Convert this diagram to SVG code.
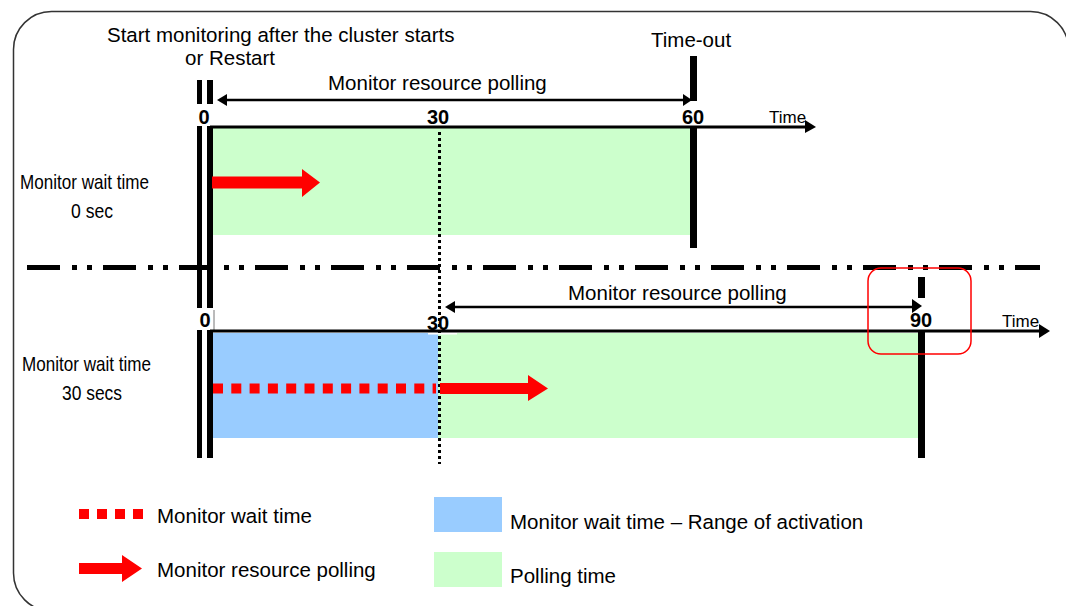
<svg xmlns="http://www.w3.org/2000/svg" width="1066" height="606" viewBox="0 0 1066 606">
<style>
text{font-family:"Liberation Sans",Arial,sans-serif;fill:#000}
.t{font-size:20.5px}
.n{font-size:21px}
.b{font-size:20px;font-weight:bold}
.s{font-size:17px}
.bar{fill:#000}
.ax{stroke:#000;stroke-width:3;fill:none}
.pl{stroke:#000;stroke-width:2.5;fill:none}
.dot{stroke:#000;stroke-width:3;stroke-dasharray:3 3;fill:none}
.dd{stroke:#000;stroke-width:5;stroke-dasharray:33 12 5 10 5 11;fill:none}
.rd{stroke:#f00;stroke-width:10;stroke-dasharray:10 8.3;fill:none}
.red{fill:#f00}
.g{fill:#ccffcc}
.bl{fill:#99ccff}
</style>
<path d="M1068.5,640 L1068.5,49.5 A38,38 0 0 0 1030.5,11.5 L51.5,11.5 A38,38 0 0 0 13.5,49.5 L13.5,573 A38,38 0 0 0 51.5,611 L1100,611" fill="#fff" stroke="#333" stroke-width="1.5"/>

<g id="fills">
<rect class="g" x="213" y="128" width="477" height="107"/>
<rect class="bl" x="213" y="333" width="225" height="105"/>
<rect class="g" x="438" y="333" width="480" height="105"/>
<rect x="428" y="332.5" width="29" height="2" fill="#fff"/>
</g>

<g id="labels-left">
<text class="n" x="20" y="189" textLength="129" lengthAdjust="spacingAndGlyphs">Monitor wait time</text>
<text class="n" x="71" y="218" textLength="42" lengthAdjust="spacingAndGlyphs">0 sec</text>
<text class="n" x="22" y="371" textLength="129" lengthAdjust="spacingAndGlyphs">Monitor wait time</text>
<text class="n" x="62" y="400" textLength="60" lengthAdjust="spacingAndGlyphs">30 secs</text>
</g>

<g id="title">
<text class="t" x="107" y="42">Start monitoring after the cluster starts</text>
<text class="t" x="185" y="65">or Restart</text>
<text class="t" x="651" y="47">Time-out</text>
</g>

<g id="start-bars">
<rect class="bar" x="197" y="80" width="5" height="24"/>
<rect class="bar" x="207" y="80" width="6" height="24"/>
<rect class="bar" x="197" y="126" width="5" height="182"/>
<rect class="bar" x="207" y="126" width="6" height="182"/>
<rect class="bar" x="197" y="330" width="5" height="128"/>
<rect class="bar" x="207" y="330" width="6" height="128"/>
<line x1="214" y1="310" x2="214" y2="331" stroke="#777" stroke-width="1"/>
</g>

<g id="timeout-bars">
<rect class="bar" x="690" y="56" width="7" height="45"/>
<rect class="bar" x="690" y="128" width="7" height="120"/>
<rect class="bar" x="918" y="277" width="7" height="21"/>
<rect class="bar" x="918" y="331" width="7" height="127"/>
</g>

<g id="ticks">
<text class="b" x="204" y="124" text-anchor="middle">0</text>
<text class="b" x="438" y="124" text-anchor="middle">30</text>
<text class="b" x="693" y="124" text-anchor="middle">60</text>
<text class="b" x="205" y="327" text-anchor="middle">0</text>
<text class="b" x="438" y="330" text-anchor="middle">30</text>
<text class="b" x="921" y="327" text-anchor="middle">90</text>
<text class="s" x="769" y="123">Time</text>
<text class="s" x="1002" y="327">Time</text>
</g>

<g id="connectors">
<line class="ax" x1="210" y1="127" x2="806" y2="127"/>
<polygon points="805,120 816,127 805,133"/>
<line class="ax" x1="210" y1="331" x2="1040" y2="331"/>
<polygon points="1039,324 1050,331 1039,338"/>
<line class="pl" x1="225" y1="100" x2="685" y2="100"/>
<polygon points="217,100 227,94 227,106"/>
<polygon points="692,100 683,94 683,106"/>
<text class="t" x="328" y="90">Monitor resource polling</text>
<line class="pl" x1="453" y1="307" x2="914" y2="307"/>
<polygon points="445,307 455,301 455,313"/>
<polygon points="922,306 912,299 912,313"/>
<text class="t" x="568" y="300">Monitor resource polling</text>
<line class="dot" x1="439.5" y1="132" x2="439.5" y2="464"/>
<line class="dd" x1="27" y1="267.5" x2="1040" y2="267.5"/>
<polygon class="red" points="212,176.5 302,176.5 302,169 320,182.5 302,197 302,188.5 212,188.5"/>
<line class="rd" x1="213" y1="388.5" x2="436" y2="388.5"/>
<polygon class="red" points="440,383 528,383 528,375 548,388.5 528,401 528,394 440,394"/>
<rect x="868" y="268" width="103" height="86" rx="13" fill="none" stroke="#f00" stroke-width="1.5"/>
</g>

<g id="legend">
<line class="rd" x1="79" y1="514" x2="143" y2="514" style="stroke-dasharray:10 8"/>
<text class="t" x="157" y="523">Monitor wait time</text>
<polygon class="red" points="79,563 122,563 122,555 142,568.5 122,582 122,574 79,574"/>
<text class="t" x="157" y="577">Monitor resource polling</text>
<rect class="bl" x="434" y="497" width="68" height="35"/>
<text class="t" x="510" y="529">Monitor wait time – Range of activation</text>
<rect class="g" x="434" y="552" width="68" height="35"/>
<text class="t" x="510" y="583">Polling time</text>
</g>
</svg>
